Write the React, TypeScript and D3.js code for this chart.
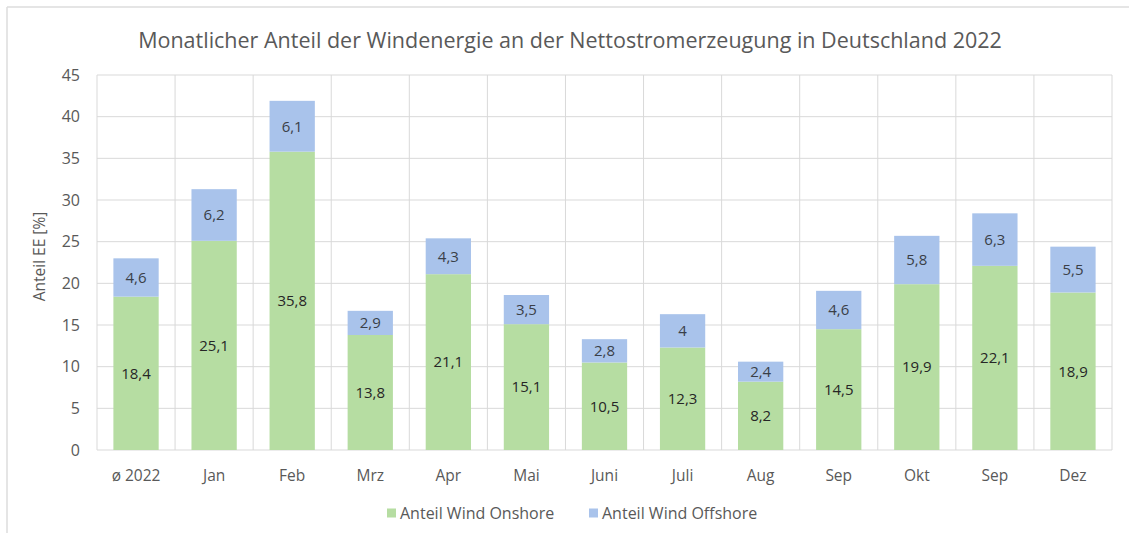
import * as d3 from 'd3';

const categories = ['ø 2022', 'Jan', 'Feb', 'Mrz', 'Apr', 'Mai', 'Juni', 'Juli', 'Aug', 'Sep', 'Okt', 'Sep', 'Dez'];
const onshore = [18.4, 25.1, 35.8, 13.8, 21.1, 15.1, 10.5, 12.3, 8.2, 14.5, 19.9, 22.1, 18.9];
const offshore = [4.6, 6.2, 6.1, 2.9, 4.3, 3.5, 2.8, 4, 2.4, 4.6, 5.8, 6.3, 5.5];
const yTicks = [0, 5, 10, 15, 20, 25, 30, 35, 40, 45];
const seriesNames = ['Anteil Wind Onshore', 'Anteil Wind Offshore'];

const W = 1129;
const H = 533;
const margin = { left: 97, right: 17, top: 75, bottom: 83 };
const COLORS = { onshore: '#b6dda2', offshore: '#a9c3eb', grid: '#d9d9d9', text: '#595959' };
const FONT = "'Open Sans', sans-serif";

const fmt = (v: number) => String(v).replace('.', ',');

export default function App() {
  const innerW = W - margin.left - margin.right;
  const innerH = H - margin.top - margin.bottom;

  const idx = categories.map((_, i) => i);
  const x = d3.scaleBand<number>().domain(idx).range([0, innerW]).paddingInner(0.42).paddingOuter(0.21);
  const y = d3.scaleLinear().domain([0, 45]).range([innerH, 0]);
  const boundaries = d3.range(categories.length + 1).map((i) => i * (innerW / categories.length));

  return (
    <div style={{ position: 'absolute', left: 0, top: 0 }}>
      <svg width={W} height={H} style={{ display: 'block', background: '#fff' }}>
        {/* outer frame */}
        <line x1={7} x2={7} y1={7} y2={H} stroke="#dcdcdc" strokeWidth={1.5} />
        <line x1={7} x2={W} y1={7} y2={7} stroke="#dcdcdc" strokeWidth={1.5} />

        <text x={570} y={48} textAnchor="middle" fontFamily={FONT} fontSize={21.5} fill={COLORS.text}>
          Monatlicher Anteil der Windenergie an der Nettostromerzeugung in Deutschland 2022
        </text>

        <g transform={`translate(${margin.left},${margin.top})`}>
          {yTicks.map((t) => (
            <g key={t}>
              <line x1={0} x2={innerW} y1={y(t)} y2={y(t)} stroke={COLORS.grid} strokeWidth={1} />
              <text x={-17} y={y(t)} dy="0.35em" textAnchor="end" fontFamily={FONT} fontSize={16} fill={COLORS.text}>
                {t}
              </text>
            </g>
          ))}
          {boundaries.map((b, i) => (
            <line key={i} x1={b} x2={b} y1={0} y2={innerH} stroke={COLORS.grid} strokeWidth={1} />
          ))}

          {idx.map((i) => {
            const bx = x(i) ?? 0;
            const bw = x.bandwidth();
            const yOn = y(onshore[i]);
            const yOff = y(onshore[i] + offshore[i]);
            return (
              <g key={i}>
                <rect x={bx} y={yOn} width={bw} height={innerH - yOn} fill={COLORS.onshore} />
                <rect x={bx} y={yOff} width={bw} height={yOn - yOff} fill={COLORS.offshore} />
                <text x={bx + bw / 2} y={(yOn + innerH) / 2} dy="0.35em" textAnchor="middle" fontFamily={FONT} fontSize={15} fill="#262626">
                  {fmt(onshore[i])}
                </text>
                <text x={bx + bw / 2} y={(yOn + yOff) / 2} dy="0.35em" textAnchor="middle" fontFamily={FONT} fontSize={15} fill="#3a3f48">
                  {fmt(offshore[i])}
                </text>
                <text x={bx + bw / 2} y={innerH + 26} dy="0.35em" textAnchor="middle" fontFamily={FONT} fontSize={15.5} fill={COLORS.text}>
                  {categories[i]}
                </text>
              </g>
            );
          })}

          <text
            transform={`translate(${-57},${innerH / 2 - 6}) rotate(-90)`}
            textAnchor="middle"
            dy="0.35em"
            fontFamily={FONT}
            fontSize={15.5}
            fill={COLORS.text}
          >
            Anteil EE [%]
          </text>
        </g>

        <g transform={`translate(0,${513})`}>
          <rect x={387} y={-4.5} width={9} height={9} fill={COLORS.onshore} />
          <text x={400} y={0} dy="0.35em" fontFamily={FONT} fontSize={16} fill={COLORS.text}>{seriesNames[0]}</text>
          <rect x={589} y={-4.5} width={9} height={9} fill={COLORS.offshore} />
          <text x={602} y={0} dy="0.35em" fontFamily={FONT} fontSize={16} fill={COLORS.text}>{seriesNames[1]}</text>
        </g>
      </svg>
    </div>
  );
}
